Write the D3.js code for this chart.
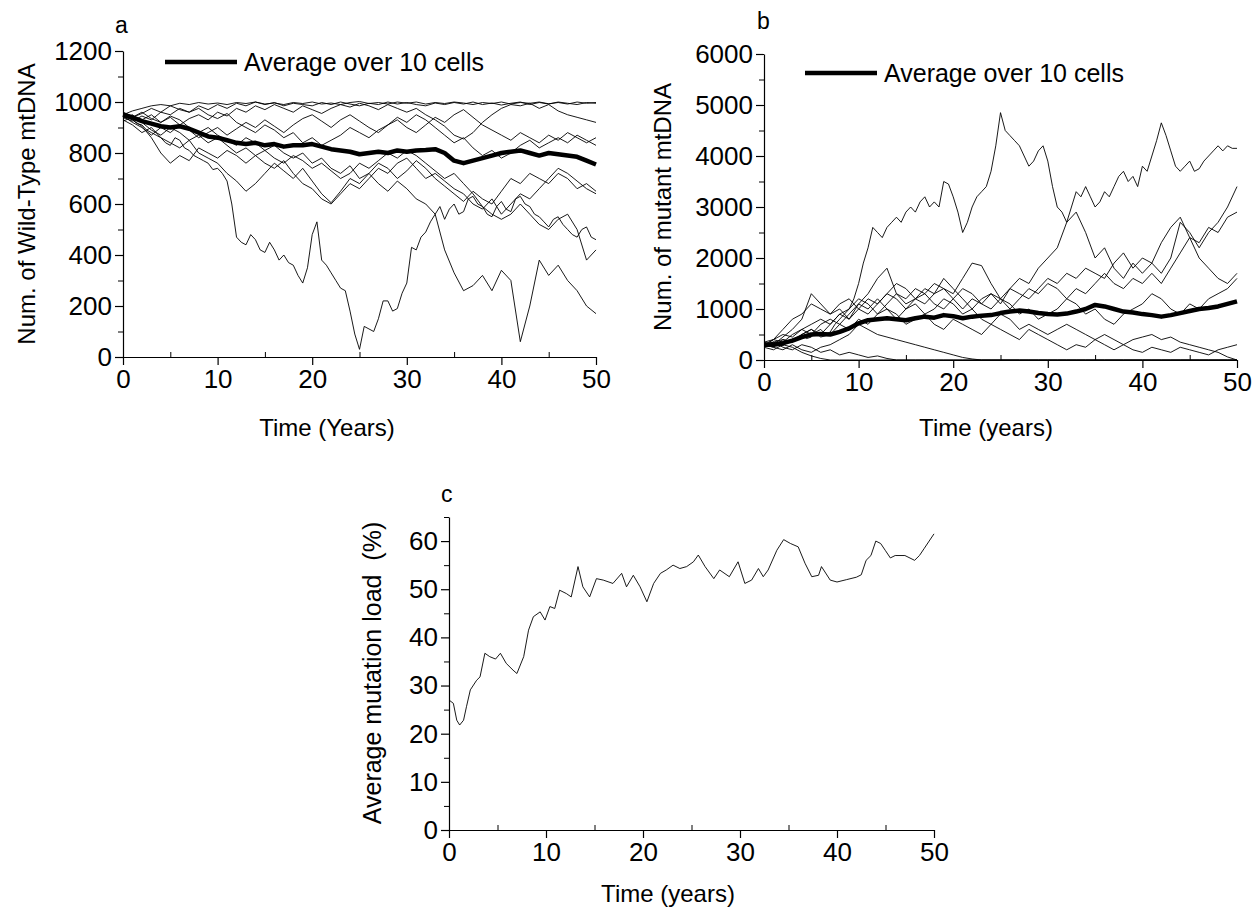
<!DOCTYPE html>
<html><head><meta charset="utf-8">
<script src="https://cdn.jsdelivr.net/npm/d3@7"></script>
<style>
html,body{margin:0;padding:0;background:#fff;}
svg text{font-family:"Liberation Sans",Arial,Helvetica,sans-serif;fill:#000;white-space:pre;}
</style></head>
<body>
<svg id="chart" width="1253" height="916"></svg>
<script>
// ---------- DATA ----------
const years = [0,1,2,3,4,5,6,7,8,9,10,11,12,13,14,15,16,17,18,19,20,21,22,23,24,25,26,27,28,29,30,31,32,33,34,35,36,37,38,39,40,41,42,43,44,45,46,47,48,49,50];
const halfYears = [0,0.5,1,1.5,2,2.5,3,3.5,4,4.5,5,5.5,6,6.5,7,7.5,8,8.5,9,9.5,10,10.5,11,11.5,12,12.5,13,13.5,14,14.5,15,15.5,16,16.5,17,17.5,18,18.5,19,19.5,20,20.5,21,21.5,22,22.5,23,23.5,24,24.5,25,25.5,26,26.5,27,27.5,28,28.5,29,29.5,30,30.5,31,31.5,32,32.5,33,33.5,34,34.5,35,35.5,36,36.5,37,37.5,38,38.5,39,39.5,40,40.5,41,41.5,42,42.5,43,43.5,44,44.5,45,45.5,46,46.5,47,47.5,48,48.5,49,49.5,50];

// Panel a: wild-type mtDNA per cell (10 cells) and average
const wt1 = [950,965,975,985,990,985,995,990,998,992,996,990,998,994,1000,992,996,990,998,994,1000,992,996,990,998,1002,994,998,992,1000,995,1000,992,998,994,1000,996,990,998,994,1000,992,998,995,1000,993,998,992,1000,995,998];
const wt2 = [940,925,945,930,960,950,975,960,985,970,990,975,995,985,1000,990,998,985,995,990,985,998,990,1000,992,985,995,990,1000,992,998,990,985,996,990,998,992,1000,990,996,988,995,1000,990,998,992,1000,995,990,998,995];
const wt3 = [960,945,930,950,920,940,910,935,950,930,960,945,975,960,985,970,990,975,960,985,970,955,975,990,980,995,985,970,990,975,960,975,950,930,905,870,855,880,920,950,975,990,985,995,975,990,965,950,940,930,920];
const wt4 = [945,920,900,870,900,880,910,890,860,880,900,870,895,920,900,930,905,880,910,935,950,925,900,930,950,925,900,880,910,940,920,950,930,900,870,840,860,820,790,810,780,800,830,850,820,840,860,840,870,850,830];
const wt5 = [930,910,880,900,860,840,820,850,800,780,760,720,690,650,680,720,760,730,700,740,690,640,605,650,700,680,720,760,740,700,730,770,740,700,670,640,610,650,620,600,650,700,680,720,700,680,720,700,660,680,650];
// deep cell, read every half year
const wt6 = [950,940,930,915,910,890,880,870,860,840,830,860,850,820,810,790,780,770,760,735,740,720,690,600,470,450,440,480,460,420,410,450,420,380,400,370,360,320,290,350,480,530,380,360,330,300,270,260,180,90,30,120,110,100,150,220,220,180,190,250,290,430,420,470,490,530,560,590,540,580,600,560,570,620,630,600,590,560,550,590,610,580,570,620,630,600,590,560,550,530,510,540,550,520,500,480,470,500,510,470,460];
const wt7 = [955,940,960,935,920,945,930,900,880,900,870,850,830,860,840,810,830,800,780,800,760,780,740,720,750,700,720,680,650,690,660,620,600,560,420,330,260,280,320,260,340,300,60,200,380,320,360,300,260,200,170];
const wt8 = [935,950,920,890,870,900,880,850,870,840,860,830,800,820,790,810,780,760,790,770,740,760,730,700,720,760,740,770,800,780,810,790,760,730,700,720,680,640,590,560,540,560,600,560,520,500,540,560,500,380,420];
const wt9 = [925,940,955,975,960,985,970,960,975,950,935,955,920,900,880,910,890,860,880,840,860,830,850,870,900,880,860,890,910,930,900,880,910,940,920,950,970,940,910,890,870,850,880,860,840,870,850,880,860,840,860];
const wt10 = [945,930,905,860,800,760,790,770,820,800,780,810,790,760,790,760,740,770,720,680,660,620,600,640,680,660,700,740,720,760,780,740,700,720,690,660,640,600,580,620,560,600,640,620,660,700,740,720,690,660,640];
const wtAvg = [950,940,925,915,905,900,905,895,880,865,860,850,840,835,840,830,835,825,830,830,835,825,815,810,805,795,800,805,800,810,805,810,812,815,800,770,760,770,780,790,800,805,810,800,790,800,795,790,785,770,755];

// Panel b: mutant mtDNA per cell (10 cells) and average
// big cell, read every half year
const mt1 = [300,320,350,300,280,350,400,450,500,420,450,550,600,500,550,700,800,900,1000,1200,1500,1900,2200,2600,2500,2400,2600,2700,2800,2700,2900,3000,2900,3100,3200,3000,3100,3000,3500,3450,3200,2900,2500,2700,3000,3200,3300,3400,3700,4200,4850,4500,4400,4300,4200,4000,3800,3900,4100,4200,3900,3400,3000,2900,2700,3000,3300,3200,3400,3200,3000,3100,3300,3200,3400,3600,3700,3500,3600,3400,3800,3700,4000,4300,4650,4400,4100,3800,3700,3800,3900,3700,3750,3900,4000,4100,4200,4100,4200,4150,4150];
const mt2 = [300,250,400,350,500,600,450,500,700,600,800,700,900,1000,800,1000,1200,1100,1300,1400,1200,1000,1200,1100,1300,1200,1400,1300,1200,1400,1600,1500,1700,1600,1800,1700,1600,1900,2100,1800,2000,1900,1700,2000,2700,2500,2200,2500,2700,3000,3400];
const mt3 = [350,300,450,600,800,1300,1100,900,1000,800,1100,1300,1600,1800,1300,1100,1200,1400,1300,1600,1400,1200,1000,1200,1300,1100,1400,1600,1500,1800,2000,2200,2700,2900,2500,2000,2200,1800,1600,1900,1700,1900,2300,2600,2800,2400,2000,1800,1600,1500,1700];
const mt4 = [300,400,350,500,600,700,800,700,900,1000,1200,1100,900,1100,1300,1200,1400,1300,1500,1400,1300,1600,1900,1850,1500,1200,1000,1200,1400,1300,1500,1400,1200,1400,1300,1500,1700,1500,1400,1600,1500,1700,1500,1800,2100,2400,2300,2600,2500,2800,2900];
const mt5 = [300,250,200,300,200,150,250,300,400,500,700,600,500,450,400,350,300,250,200,150,100,50,20,0,0,0,0,0,0,0,0,0,0,0,0,0,0,0,0,0,0,0,0,0,0,0,0,0,0,0,0];
const mt6 = [250,200,300,250,150,80,30,0,0,0,0,0,0,0,0,0,0,0,0,0,0,0,0,0,0,0,0,0,0,0,0,0,0,0,0,0,0,0,0,0,0,0,0,0,0,0,0,0,0,0,0];
const mt7 = [300,350,250,200,300,250,150,200,100,150,100,50,80,30,0,0,0,0,0,0,0,0,0,0,0,0,0,0,0,0,0,0,0,0,0,0,0,0,0,0,0,0,0,0,0,0,0,0,0,0,0];
const mt8 = [350,400,500,450,600,500,700,800,700,900,1100,1000,1200,1000,900,700,800,900,700,600,800,700,600,500,700,600,500,400,600,500,400,300,200,300,250,400,300,200,300,200,150,250,200,150,250,200,150,100,200,250,300];
const mt9 = [300,350,400,350,500,600,500,700,900,800,1000,1200,1100,1300,1200,1000,1100,900,1000,1200,1100,900,1000,800,700,900,800,600,700,600,500,600,700,600,500,400,500,400,300,400,450,500,400,450,350,300,250,200,150,60,0];
const mt10 = [280,400,600,800,900,1100,1000,900,1100,1200,1000,900,1100,1300,1500,1400,1200,1300,1100,1000,1200,1400,1300,1100,1000,1200,1100,900,1000,800,900,1000,1200,1100,900,1000,800,700,900,1000,1100,1300,1200,1000,900,1100,1000,1200,1300,1400,1600];
const mtAvg = [300,300,330,380,450,500,510,500,550,620,720,780,800,820,800,780,820,850,830,880,860,820,850,870,880,920,950,970,950,920,900,890,910,950,1000,1080,1050,1000,950,930,900,880,850,880,920,960,1000,1020,1050,1100,1150];

// Panel c: average mutation load (%)
const loadTime = [0,0.45,0.8,1.1,1.5,1.8,2.2,2.85,3.2,3.7,4.2,4.8,5.3,5.9,6.6,7.0,7.7,8.2,8.7,9.4,9.9,10.4,10.9,11.4,12.1,12.6,13.3,13.8,14.5,15.2,15.9,16.9,17.8,18.3,19.0,19.7,20.4,21.1,21.8,22.4,23.1,23.8,24.5,25.2,25.7,26.4,27.3,27.9,28.9,29.8,30.5,31.2,31.9,32.4,32.9,33.8,34.5,35.2,36.0,36.7,37.4,38.1,38.4,39.3,40.0,41.0,42.0,42.5,43.0,43.5,44.0,44.5,45.0,45.5,46.0,47.0,48.0,48.5,49.0,49.5,50.0];
const loadPct = [27,26.3,22.8,21.8,22.8,25.6,29.1,31.1,31.8,36.7,36,35.5,36.7,34.6,33.2,32.5,36,41.5,44.3,45.3,43.6,46.4,46,49.8,49.1,48.4,54.7,50.5,48.4,52.2,51.9,51.2,53.3,50.5,52.9,50.5,47.4,51.2,53.3,54,55,54.3,54.7,55.7,57.1,54.7,52.2,54,52.6,55.7,51.2,51.9,54.3,52.6,54,58.1,60.3,59.5,58.8,55.4,52.6,52.9,54.7,51.9,51.5,52,52.5,53,56,57,60,59.5,58,56.5,57,57,56,57,58.5,60,61.5];

const wtTicks = [0,200,400,600,800,1000,1200];
const mtTicks = [0,1000,2000,3000,4000,5000,6000];
const loadTicks = [0,10,20,30,40,50,60];
const timeTicks = [0,10,20,30,40,50];

// ---------- DRAW ----------
const svg = d3.select("#chart");
const FS = 24, TFS = 26;

function panel(cfg){
  const g = svg.append("g");
  const x = d3.scaleLinear().domain([0,50]).range(cfg.xr);
  const y = d3.scaleLinear().domain(cfg.yd).range(cfg.yr);
  // minor ticks
  g.append("g").attr("transform",`translate(0,${cfg.yr[0]})`)
    .call(d3.axisBottom(x).tickValues([5,15,25,35,45]).tickSize(-5).tickFormat("").tickSizeOuter(0))
    .call(s=>s.select(".domain").remove());
  g.append("g").attr("transform",`translate(${cfg.xr[0]},0)`)
    .call(d3.axisLeft(y).tickValues(cfg.minor).tickSize(5).tickFormat("").tickSizeOuter(0))
    .call(s=>s.select(".domain").remove());
  // major axes
  const xa = g.append("g").attr("transform",`translate(0,${cfg.yr[0]})`)
    .call(d3.axisBottom(x).tickValues(timeTicks).tickFormat(d3.format("d")).tickSize(8).tickPadding(5).tickSizeOuter(0));
  const ya = g.append("g").attr("transform",`translate(${cfg.xr[0]},0)`)
    .call(d3.axisLeft(y).tickValues(cfg.ticks).tickFormat(d3.format("d")).tickSize(8).tickPadding(3).tickSizeOuter(0));
  [xa,ya].forEach(a=>{
    a.selectAll("text").style("font-size",TFS+"px").attr("fill","#000");
    a.selectAll("line,path").attr("stroke","#000").attr("stroke-width",1.2);
  });
  g.selectAll("line").attr("stroke","#000");
  // series
  cfg.series.forEach(s=>{
    const line = d3.line().x((d,i)=>x(s.t[i])).y(d=>y(d));
    g.append("path").datum(s.v).attr("d",line).attr("fill","none")
      .attr("stroke","#000").attr("stroke-width",0.9).attr("stroke-linejoin","round");
  });
  if(cfg.avg){
    const line = d3.line().x((d,i)=>x(years[i])).y(d=>y(d));
    g.append("path").datum(cfg.avg).attr("d",line).attr("fill","none")
      .attr("stroke","#000").attr("stroke-width",4.5).attr("stroke-linejoin","round");
  }
  // labels
  g.append("text").attr("x",cfg.letter[0]).attr("y",cfg.letter[1]).style("font-size","23px").text(cfg.letterText);
  g.append("text").attr("x",cfg.xt[0]).attr("y",cfg.xt[1]).attr("text-anchor","middle")
    .style("font-size",FS+"px").text(cfg.xTitle);
  g.append("text").attr("transform",`translate(${cfg.yt[0]},${cfg.yt[1]}) rotate(-90)`)
    .attr("text-anchor","middle").attr("dy","0.35em").style("font-size",cfg.ytFS+"px").text(cfg.yTitle);
  if(cfg.legend){
    const L = cfg.legend;
    g.append("line").attr("x1",L[0]).attr("x2",L[1]).attr("y1",L[2]).attr("y2",L[2])
      .attr("stroke","#000").attr("stroke-width",4.5);
    g.append("text").attr("x",L[1]+7).attr("y",L[2]).attr("dy","0.35em")
      .style("font-size","25px").text("Average over 10 cells");
  }
}

const A = s=>({t:years, v:s}), H = s=>({t:halfYears, v:s});

panel({xr:[123,596], yd:[0,1200], yr:[357,51], ticks:wtTicks, minor:[100,300,500,700,900,1100],
  series:[A(wt1),A(wt2),A(wt3),A(wt4),A(wt5),H(wt6),A(wt7),A(wt8),A(wt9),A(wt10)], avg:wtAvg,
  letter:[115,33], letterText:"a", xt:[327,436], xTitle:"Time (Years)",
  yt:[27,204], ytFS:24, yTitle:"Num. of Wild-Type mtDNA", legend:[165,237,62]});

panel({xr:[764,1237], yd:[0,6000], yr:[360,54], ticks:mtTicks, minor:[500,1500,2500,3500,4500,5500],
  series:[H(mt1),A(mt2),A(mt3),A(mt4),A(mt5),A(mt6),A(mt7),A(mt8),A(mt9),A(mt10)], avg:mtAvg,
  letter:[757,29], letterText:"b", xt:[986,436], xTitle:"Time (years)",
  yt:[663,207], ytFS:24, yTitle:"Num. of mutant mtDNA", legend:[805,877,73]});

panel({xr:[449,934], yd:[0,65], yr:[830,517], ticks:loadTicks, minor:[5,15,25,35,45,55,65],
  series:[{t:loadTime, v:loadPct}], avg:null,
  letter:[441,502], letterText:"c", xt:[668,902], xTitle:"Time (years)",
  yt:[372,673], ytFS:25, yTitle:"Average mutation load  (%)", legend:null});
</script>
</body></html>
